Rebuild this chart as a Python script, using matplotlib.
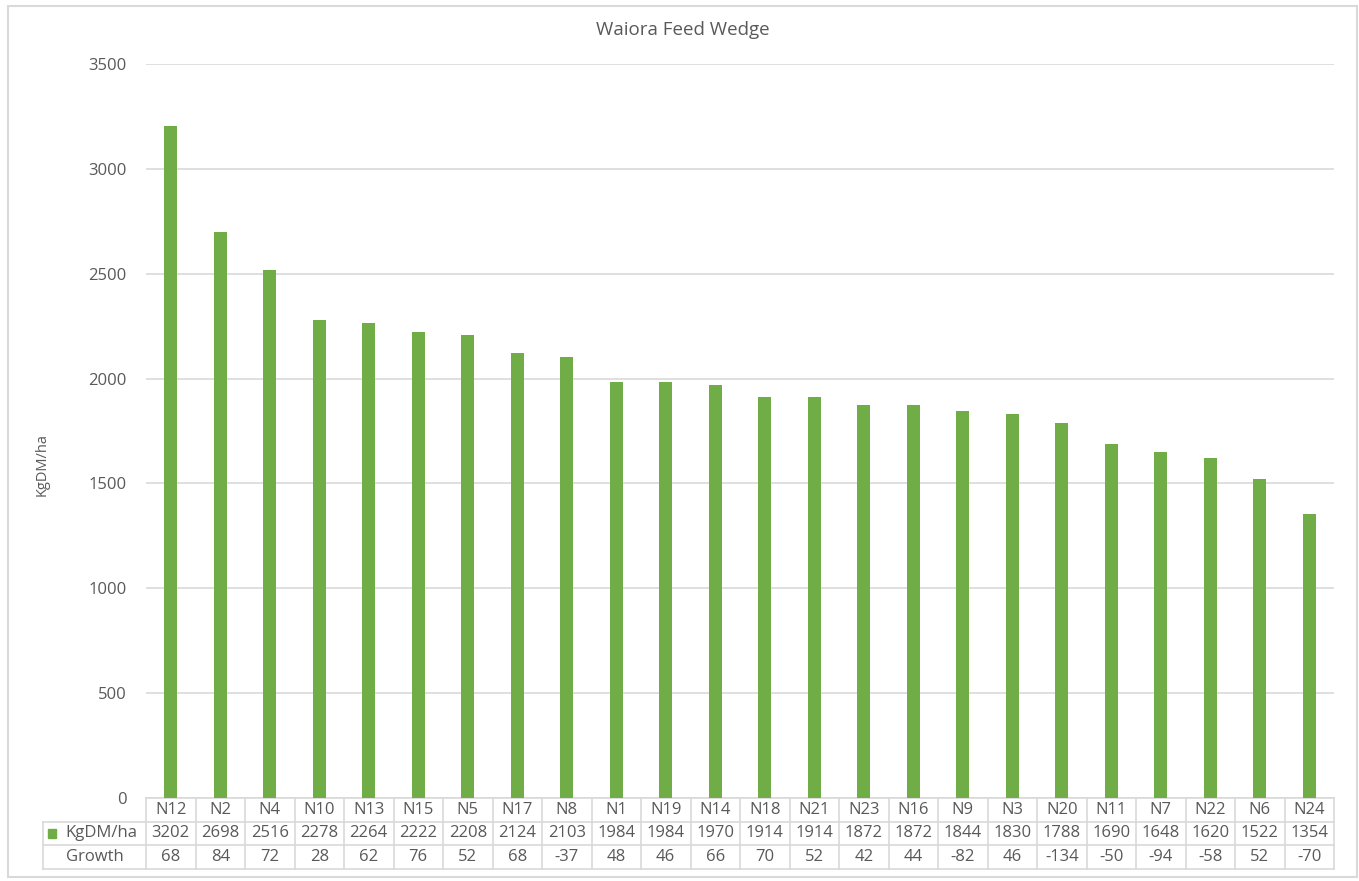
import matplotlib.pyplot as plt
import matplotlib.transforms as mtransforms
from matplotlib.patches import Rectangle

plt.rcParams['font.family'] = ['Open Sans', 'DejaVu Sans']

paddocks = ['N12', 'N2', 'N4', 'N10', 'N13', 'N15', 'N5', 'N17', 'N8', 'N1', 'N19', 'N14',
            'N18', 'N21', 'N23', 'N16', 'N9', 'N3', 'N20', 'N11', 'N7', 'N22', 'N6', 'N24']
cover = [3202, 2698, 2516, 2278, 2264, 2222, 2208, 2124, 2103, 1984, 1984, 1970,
         1914, 1914, 1872, 1872, 1844, 1830, 1788, 1690, 1648, 1620, 1522, 1354]
growth = [68, 84, 72, 28, 62, 76, 52, 68, -37, 48, 46, 66,
          70, 52, 42, 44, -82, 46, -134, -50, -94, -58, 52, -70]

green = '#70AD47'
grey_text = '#595959'
line_col = '#D9D9D9'

W, H = 1359, 881
fig = plt.figure(figsize=(W / 100, H / 100), dpi=100)

# chart border
fig.patches.append(Rectangle((8 / W, 1 - 877 / H), (1357 - 8) / W, (877 - 6) / H,
                             transform=fig.transFigure, fill=False, edgecolor=line_col, lw=1.5))

left, right, top, bottom = 146, 1334, 64, 798
ax = fig.add_axes([left / W, 1 - bottom / H, (right - left) / W, (bottom - top) / H])

x = list(range(len(paddocks)))
ax.bar(x, cover, width=0.27, color=green, zorder=3)
ax.set_xlim(-0.5, len(paddocks) - 0.5)
ax.set_ylim(0, 3500)
ax.set_yticks(range(0, 3501, 500))
ax.yaxis.grid(True, color=line_col, lw=1.2, zorder=0)
ax.tick_params(axis='y', length=0, pad=14, labelsize=12, labelcolor=grey_text)
ax.set_xticks([])
for s in ax.spines.values():
    s.set_visible(False)

ax.set_ylabel('KgDM/ha', fontsize=10.5, color=grey_text)
ax.yaxis.set_label_coords(-0.081, 0.454)
fig.text(683 / W, 1 - 30 / H, 'Waiora Feed Wedge', ha='center', va='center',
         fontsize=13.5, color=grey_text)

# data table below the plot
tr = mtransforms.blended_transform_factory(ax.transData, ax.transAxes)
row_h = 23.5 / (bottom - top)
rows = [paddocks, [str(v) for v in cover], [str(v) for v in growth]]
n = len(paddocks)
label_left = -0.5 - 103 / 49.5
kw = dict(transform=tr, color=line_col, lw=1.2, clip_on=False)

for r in range(4):
    y = -r * row_h
    x0 = -0.5 if r == 0 else label_left
    ax.plot([x0, n - 0.5], [y, y], **kw)
for c in range(n + 1):
    ax.plot([c - 0.5, c - 0.5], [0, -3 * row_h], **kw)
ax.plot([label_left, label_left], [-row_h, -3 * row_h], **kw)

for r, vals in enumerate(rows):
    yc = -(r + 0.5) * row_h
    for i, v in enumerate(vals):
        ax.text(i, yc, v, transform=tr, ha='center', va='center',
                fontsize=12, color=grey_text, clip_on=False)

lab_c = (label_left - 0.5) / 2
ax.text(lab_c + 0.13, -1.5 * row_h, 'KgDM/ha', transform=tr, ha='center', va='center',
        fontsize=12, color=grey_text)
ax.add_patch(Rectangle((label_left + 0.1, -1.5 * row_h - 0.006), 0.16, 0.012,
                       transform=tr, color=green, clip_on=False))
ax.text(lab_c, -2.5 * row_h, 'Growth', transform=tr, ha='center', va='center',
        fontsize=12, color=grey_text)

fig.savefig('out.png', dpi=100)
